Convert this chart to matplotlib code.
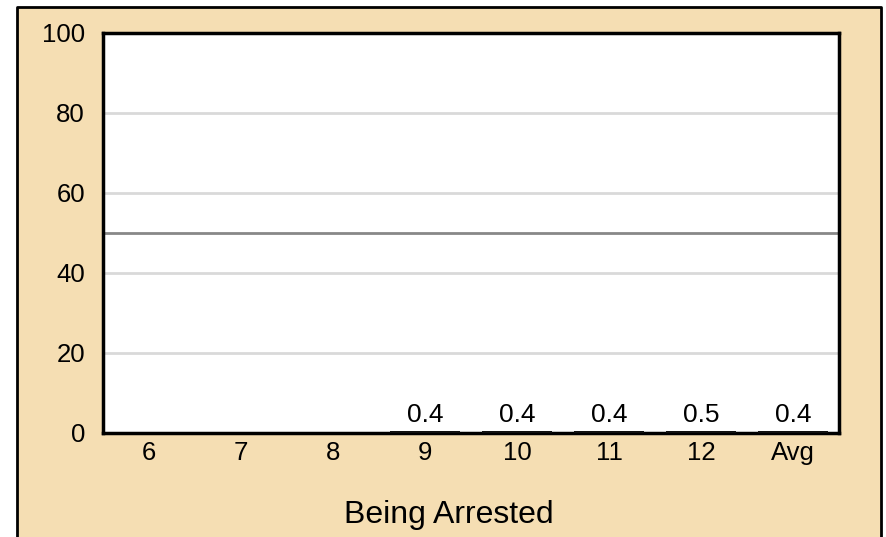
import numpy as np
import matplotlib.pyplot as plt
from matplotlib.patches import Rectangle

plt.rcParams['font.family'] = ['Liberation Sans', 'DejaVu Sans']

# Data
grades = ['6', '7', '8', '9', '10', '11', '12', 'Avg']
values = [None, None, None, 0.4, 0.4, 0.4, 0.5, 0.4]
title = 'Being Arrested'

W, H = 886, 537
fig = plt.figure(figsize=(W / 100, H / 100), dpi=100)
fig.patch.set_facecolor('white')

# outer tan panel with black border (open at bottom)
bg = Rectangle((17 / W, 0), (881 - 17) / W, 1 - 7 / H, transform=fig.transFigure,
               facecolor='#F5DEB3', edgecolor='none', zorder=-2)
fig.patches.append(bg)
fig.add_artist(plt.Line2D([17 / W, 17 / W, 881 / W, 881 / W], [0, 1 - 7 / H, 1 - 7 / H, 0],
                          transform=fig.transFigure, color='black', lw=2, zorder=-1))

ax = fig.add_axes([103 / W, 1 - 433 / H, (839 - 103) / W, (433 - 33) / H])
ax.set_zorder(1)
ax.set_facecolor('white')

x = np.arange(len(grades))
for xi, v in zip(x, values):
    if v is None:
        continue
    ax.bar(xi, v, width=0.76, color='#111111', zorder=3)
    ax.text(xi, v + 1.0, f'{v:.1f}', ha='center', va='bottom', fontsize=19)

ax.set_xlim(-0.5, len(grades) - 0.5)
ax.set_ylim(0, 100)
ax.set_yticks([0, 20, 40, 60, 80, 100])
for y in [20, 40, 60, 80]:
    ax.axhline(y, color='#d9d9d9', lw=2, zorder=1)
ax.axhline(50, color='#888888', lw=2, zorder=2)

ax.set_xticks(x)
ax.set_xticklabels(grades)
ax.tick_params(axis='both', length=0, labelsize=18.5)
ax.tick_params(axis='y', pad=13)
ax.tick_params(axis='x', pad=6)
for s in ax.spines.values():
    s.set_linewidth(2.5)
    s.set_color('black')

fig.text(449 / W, 1 - 515 / H, title, ha='center', va='center', fontsize=23)

fig.savefig('out.png', dpi=100)
